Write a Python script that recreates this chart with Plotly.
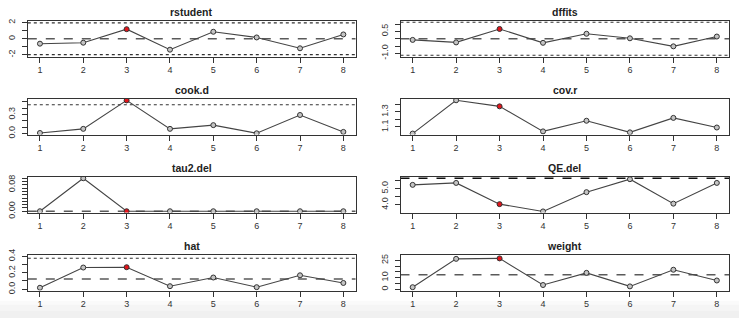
import plotly.graph_objects as go

# ---------------- data ----------------
study = [1, 2, 3, 4, 5, 6, 7, 8]
influential = [3]

rstudent = [-0.61, -0.49, 1.18, -1.35, 0.86, 0.16, -1.18, 0.53]
dffits = [-0.08, -0.25, 0.67, -0.28, 0.34, 0.03, -0.52, 0.15]
cook_d = [0.010, 0.075, 0.525, 0.075, 0.134, 0.005, 0.294, 0.027]
cov_r = [1.013, 1.452, 1.372, 1.042, 1.182, 1.029, 1.220, 1.093]
tau2_del = [0.0, 0.100, 0.0, 0.0, 0.0, 0.0, 0.0, 0.0]
QE_del = [5.23, 5.35, 4.04, 3.59, 4.78, 5.58, 4.07, 5.35]
hat = [0.018, 0.263, 0.267, 0.037, 0.142, 0.025, 0.169, 0.076]
weight = [1.8, 26.3, 26.7, 3.7, 14.2, 2.5, 16.9, 7.6]

# reference values
rstudent_crit = 1.96
dffits_crit = 1.134
cook_crit = 0.455
tau2_full = 0.0
QE_full = 5.64
hat_mean = 0.125
hat_crit = 0.375
weight_mean = 12.5

# tick values / labels
rs_ticks = [-2, -1, 0, 1, 2]
rs_text = ["-2", "", "0", "", "2"]
df_ticks = [-1.0, -0.5, 0.0, 0.5, 1.0]
df_text = ["-1.0", "", "", "0.5", ""]
ck_ticks = [0.0, 0.1, 0.2, 0.3, 0.4, 0.5]
ck_text = ["0.0", "", "", "0.3", "", ""]
cv_ticks = [1.1, 1.2, 1.3, 1.4]
cv_text = ["1.1", "", "1.3", ""]
t2_ticks = [0.00, 0.01, 0.02, 0.03, 0.04, 0.05, 0.06, 0.07, 0.08, 0.09, 0.10]
t2_text = ["0.00", "", "", "", "", "", "", "", "0.08", "", ""]
qe_ticks = [4.0, 4.5, 5.0, 5.5]
qe_text = ["4.0", "", "5.0", ""]
ht_ticks = [0.0, 0.1, 0.2, 0.3, 0.4]
ht_text = ["0.0", "", "0.2", "", "0.4"]
wt_ticks = [0, 5, 10, 15, 20, 25]
wt_text = ["0", "", "10", "", "", "25"]

# ---------------- layout geometry ----------------
W, H = 739, 324
col_px = [(27.8, 355.5), (400.5, 729.0)]
row_top = [15.5, 96.5, 177.5, 258.5]
box_h = 37.0

DASH = dict(color="#5a5a5a", width=1.5, dash="dash")
DOT = dict(color="#333333", width=1.1, dash="dot")

panels = [
    ("rstudent", rstudent, [-2.2, 2.2], rs_ticks, rs_text,
     [(0, DASH), (rstudent_crit, DOT), (-rstudent_crit, DOT)]),
    ("dffits", dffits, [-1.22, 1.22], df_ticks, df_text,
     [(0, DASH), (dffits_crit, DOT), (-dffits_crit, DOT)]),
    ("cook.d", cook_d, [-0.015, 0.548], ck_ticks, ck_text,
     [(cook_crit, DOT)]),
    ("cov.r", cov_r, [1.0, 1.47], cv_ticks, cv_text, []),
    ("tau2.del", tau2_del, [-0.004, 0.104], t2_ticks, t2_text,
     [(tau2_full, DASH)]),
    ("QE.del", QE_del, [3.52, 5.72], qe_ticks, qe_text,
     [(QE_full, dict(color="#111111", width=1.6, dash="dash"))]),
    ("hat", hat, [-0.016, 0.416], ht_ticks, ht_text,
     [(hat_crit, DOT), (hat_mean, DASH)]),
    ("weight", weight, [-1.1, 29.7], wt_ticks, wt_text,
     [(weight_mean, DASH)]),
]

FONT = "Liberation Sans, Arial, Helvetica, sans-serif"
fig = go.Figure()
layout = dict(
    width=W, height=H, margin=dict(l=0, r=0, t=0, b=0),
    paper_bgcolor="white", plot_bgcolor="white", showlegend=False,
    font=dict(family=FONT, size=9, color="#333333"),
)
shapes = []
annotations = []

# light grey band at the very bottom (screenshot artefact)
for y0, y1, c in [(306, 310, "#fafafa"), (310, 316, "#f5f5f5"), (316, 324, "#f0f0f0")]:
    shapes.append(dict(type="rect", xref="paper", yref="paper", x0=0, x1=1,
                       y0=1 - y1 / H, y1=1 - y0 / H, fillcolor=c,
                       line=dict(width=0), layer="below"))

for k, (title, vals, yr, tv, tt, refs) in enumerate(panels):
    r, c = divmod(k, 2)
    n = k + 1
    xs = "" if n == 1 else str(n)
    x0p, x1p = col_px[c]
    top = row_top[r]
    bot = top + box_h
    xdom = [x0p / W, x1p / W]
    ydom = [1 - bot / H, 1 - top / H]

    colors = ["#e3141b" if s in influential else "#c4c4c4" for s in study]
    fig.add_trace(go.Scatter(
        x=study, y=vals, mode="lines+markers",
        line=dict(color="#444444", width=1.1),
        marker=dict(size=5, color=colors, line=dict(color="#333333", width=1)),
        xaxis="x" + xs, yaxis="y" + xs, hoverinfo="skip",
    ))

    axcommon = dict(showline=True, mirror=True, linecolor="#333333", linewidth=1,
                    ticks="outside", ticklen=5, tickcolor="#333333", tickwidth=1,
                    showgrid=False, zeroline=False,
                    tickfont=dict(family=FONT, size=9, color="#333333"))
    layout["xaxis" + xs] = dict(domain=xdom, range=[0.72, 8.28], anchor="y" + xs,
                                tickvals=study, ticktext=[str(s) for s in study],
                                **axcommon)
    layout["yaxis" + xs] = dict(domain=ydom, range=yr, anchor="x" + xs,
                                tickvals=tv, ticktext=tt, tickangle=-90,
                                ticklabelstandoff=3,
                                **axcommon)

    for v, ln in refs:
        shapes.append(dict(type="line", xref=f"x{xs} domain", yref=f"y{xs}",
                           x0=0, x1=1, y0=v, y1=v, line=ln, layer="below"))

    annotations.append(dict(text=f"<b>{title}</b>", xref="paper", yref="paper",
                            x=(x0p + x1p) / 2 / W, y=1 - (top - 9.5) / H,
                            xanchor="center", yanchor="middle", showarrow=False,
                            font=dict(family=FONT, size=10.5, color="#222222")))

layout["shapes"] = shapes
layout["annotations"] = annotations
fig.update_layout(**layout)
fig.write_html("out.html", config={"displayModeBar": False, "staticPlot": True})

# remove the browser's default body margin so the figure sits at (0, 0)
with open("out.html", "r", encoding="utf-8") as f:
    html = f.read()
html = html.replace("<body>", '<body style="margin:0;padding:0;overflow:hidden">', 1)
with open("out.html", "w", encoding="utf-8") as f:
    f.write(html)
